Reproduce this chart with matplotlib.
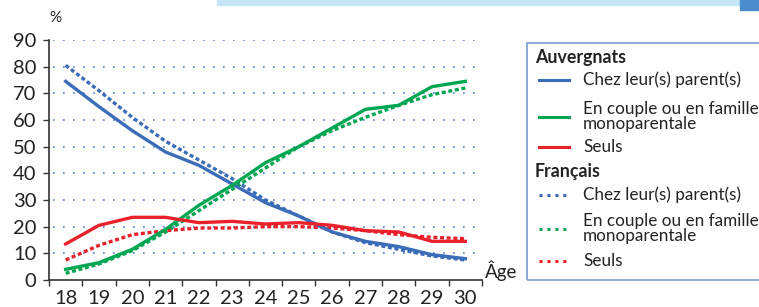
import matplotlib
matplotlib.use("Agg")
import matplotlib.pyplot as plt
from matplotlib.patches import Rectangle
from matplotlib.lines import Line2D

plt.rcParams['font.family'] = ['Lato', 'DejaVu Sans']

ages = [18, 19, 20, 21, 22, 23, 24, 25, 26, 27, 28, 29, 30]
auv_parents = [74.5, 65, 56, 48, 43, 36, 29, 24, 18, 14.5, 12.5, 9.5, 8]
auv_couple = [4, 6.5, 11.5, 19, 28, 35.5, 44, 50, 57, 64, 65.5, 72.5, 74.5]
auv_seuls = [13.5, 20.5, 23.5, 23.5, 21.5, 22, 21, 21.5, 20.5, 18.5, 18, 14.5, 14.5]
fr_parents = [80.5, 71, 61, 52, 45, 38, 30, 24, 18, 14, 11.5, 9, 7.5]
fr_couple = [2.5, 6, 11, 18, 26, 34, 42, 50, 56, 61, 65.5, 69.5, 72]
fr_seuls = [7.5, 13, 17, 18.5, 19.5, 19.5, 20, 20, 19.5, 18.5, 17, 16, 15.5]

labels = ["Chez leur(s) parent(s)", "En couple ou en famille\nmonoparentale", "Seuls"]
groups = ["Auvergnats", "Français"]

BLUE = "#3a6cb8"
GREEN = "#00a651"
RED = "#e8212b"
GRID = "#4f7fcf"
AX = "#333333"

W, H = 759, 307
fig = plt.figure(figsize=(W / 100, H / 100), dpi=100)

def fx(px):
    return px / W

def fy(py):
    return 1 - py / H

ax = fig.add_axes([fx(49), fy(280), fx(482) - fx(49), fy(40) - fy(280)])
ax.set_xlim(17.5, 30.5)
ax.set_ylim(0, 90)

for v in range(10, 100, 10):
    ax.axhline(v, color=GRID, lw=1.2, ls=(0, (1, 5)), xmin=0.01, zorder=1)

lw = 2.4
ax.plot(ages, fr_parents, color=BLUE, lw=lw, ls=(0, (1.2, 0.8)), zorder=3)
ax.plot(ages, fr_couple, color=GREEN, lw=lw, ls=(0, (1.2, 0.8)), zorder=3)
ax.plot(ages, fr_seuls, color=RED, lw=lw, ls=(0, (1.2, 0.8)), zorder=3)
ax.plot(ages, auv_parents, color=BLUE, lw=lw, zorder=4)
ax.plot(ages, auv_couple, color=GREEN, lw=lw, zorder=4)
ax.plot(ages, auv_seuls, color=RED, lw=lw, zorder=4)

for s in ['top', 'right']:
    ax.spines[s].set_visible(False)
for s in ['left', 'bottom']:
    ax.spines[s].set_color(AX)
    ax.spines[s].set_linewidth(1.2)

ax.set_yticks(range(0, 100, 10))
ax.tick_params(axis='y', length=4, width=1, color=AX, labelsize=14.5, pad=5, labelcolor="#222222")
ax.set_xticks([a - 0.5 for a in ages] + [30.5])
ax.set_xticklabels([])
ax.set_xticks(ages, minor=True)
ax.set_xticklabels([str(a) for a in ages], minor=True)
ax.tick_params(axis='x', which='major', length=4, width=1, color=AX)
ax.tick_params(axis='x', which='minor', length=0, labelsize=14.5, pad=7, labelcolor="#222222")

fig.text(fx(55), fy(18), "%", fontsize=11, ha='center', va='center', color="#222222")
fig.text(fx(485), fy(271), "Âge", fontsize=13.5, ha='left', va='center', color="#222222")

# top banner
fig.patches.append(Rectangle((fx(217), fy(5)), fx(745) - fx(217), fy(0) - fy(5),
                             transform=fig.transFigure, color="#c5e6f7", zorder=0))
fig.patches.append(Rectangle((fx(740), fy(10)), fx(759) - fx(740), fy(0) - fy(10),
                             transform=fig.transFigure, color="#4a8ccc", zorder=0))

# legend box
fig.patches.append(Rectangle((fx(527), fy(280)), fx(775) - fx(527), fy(43) - fy(280),
                             transform=fig.transFigure, fill=False, ec="#7c9bd1", lw=1.2))

tcol = "#222222"
fs = 12.3
fig.text(fx(535), fy(57), groups[0], fontsize=12.8, fontweight='bold', va='center', color=tcol)
fig.text(fx(535), fy(172), groups[1], fontsize=12.8, fontweight='bold', va='center', color=tcol)

entries = [
    (80, 80, BLUE, '-', labels[0]),
    (117, 116.5, GREEN, '-', labels[1]),
    (147, 147, RED, '-', labels[2]),
    (195, 195, BLUE, ':', labels[0]),
    (229, 228.5, GREEN, ':', labels[1]),
    (261, 261, RED, ':', labels[2]),
]
for ly, ty, c, st, lab in entries:
    ls = '-' if st == '-' else (0, (1, 1.6))
    fig.add_artist(Line2D([fx(539), fx(569)], [fy(ly), fy(ly)], color=c, lw=2.2, ls=ls,
                          transform=fig.transFigure))
    fig.text(fx(583), fy(ty), lab, fontsize=fs, va='center', color=tcol, linespacing=0.85)

fig.savefig("out.png", dpi=100)
